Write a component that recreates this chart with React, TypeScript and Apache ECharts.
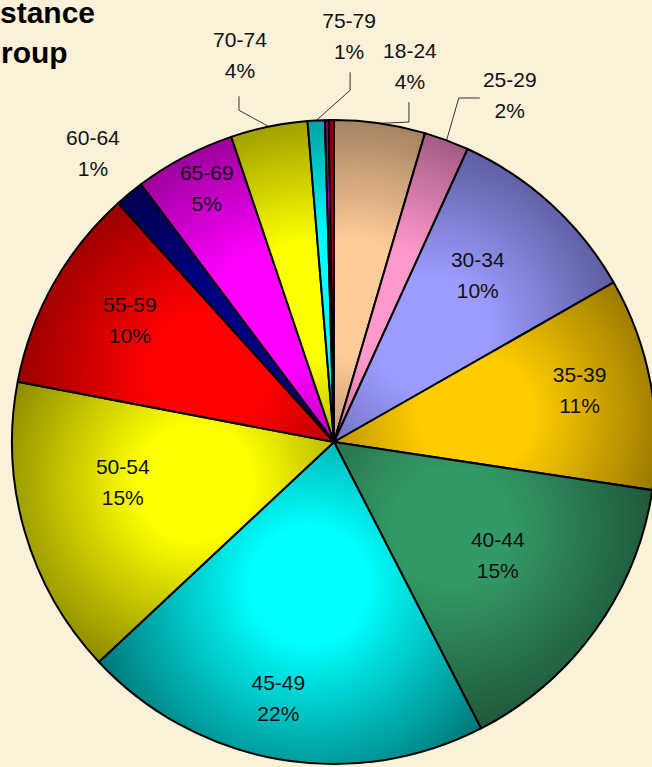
import React, { useEffect, useRef } from 'react';
import * as echarts from 'echarts';

// ---- data ----
const ageGroups = ['18-24', '25-29', '30-34', '35-39', '40-44', '45-49', '50-54', '55-59', '60-64', '65-69', '70-74', '75-79', '80-84', '85+'];
const shares = [4.56, 2.25, 9.94, 10.64, 15.06, 20.58, 14.97, 10.3, 1.47, 5.06, 3.86, 0.86, 0.19, 0.26];
const shareLabels = ['4%', '2%', '10%', '11%', '15%', '22%', '15%', '10%', '1%', '5%', '4%', '1%', '', ''];
const titleLines = ['stance', 'roup'];

// ---- styling / layout ----
const lightColors = ['#FFCC99', '#FF99CC', '#9C9CFF', '#FFCC00', '#339966', '#00FFFF', '#FFFF00', '#FF0000', '#000080', '#FF00FF', '#FFFF00', '#00FFFF', '#CC00CC', '#B00000'];
const darkColors = ['#7E6248', '#7A3F62', '#484880', '#7A5F00', '#1B4A31', '#007070', '#747400', '#780000', '#00003A', '#700070', '#767600', '#007878', '#660066', '#7A0000'];

const CX = 334;
const CY = 442;
const R = 322;
const labelRadius = [384, 389, 220, 251, 199, 262, 215, 238, 376, 284, 398, 406, 0, 0];
const labelShift = [3.2, 6.4, -1.6, -1.4, -1.1, 2.4, 5.4, 1.6, -0.4, 1.1, -2.0, 5.3, 0, 0];
const leaders: Record<number, { bend: [number, number]; end: [number, number] }> = {
  0: { bend: [-1, 56.5], end: [-1, 36.5] },
  1: { bend: [-51, 3], end: [-30, 3] },
  10: { bend: [-1, 55], end: [-1, 41] },
  11: { bend: [1, 54], end: [1, 36] },
};

function midAngles(): number[] {
  const total = shares.reduce((a, b) => a + b, 0);
  let acc = 0;
  return shares.map((v) => {
    const m = acc + v / 2;
    acc += v;
    return (m / total) * 360;
  });
}

const polar = (r: number, deg: number): [number, number] => [
  CX + r * Math.sin((deg * Math.PI) / 180),
  CY - r * Math.cos((deg * Math.PI) / 180),
];

export default function App() {
  const ref = useRef<HTMLDivElement>(null);

  useEffect(() => {
    if (!ref.current) return;
    const chart = echarts.init(ref.current, undefined, { renderer: 'svg' });
    const mids = midAngles();

    const data = ageGroups.map((name, i) => {
      const [gx, gy] = polar(R * 0.45, mids[i]);
      return {
        name,
        value: shares[i],
        itemStyle: {
          color: {
            type: 'radial',
            x: gx,
            y: gy,
            r: R * 0.72,
            global: true,
            colorStops: [
              { offset: 0, color: lightColors[i] },
              { offset: 0.25, color: lightColors[i] },
              { offset: 1, color: darkColors[i] },
            ],
          },
        },
        label: { show: i < 12 },
        labelLine: { show: leaders[i] !== undefined },
      };
    });

    chart.setOption({
      animation: false,
      backgroundColor: '#FBF1D9',
      graphic: [
        {
          type: 'text',
          x: 0,
          y: 12,
          style: {
            text: titleLines[0],
            font: 'bold 30px "Liberation Sans", Arial, sans-serif',
            fill: '#000',
            verticalAlign: 'middle',
          },
        },
        {
          type: 'text',
          x: 1,
          y: 52,
          style: {
            text: titleLines[1],
            font: 'bold 30px "Liberation Sans", Arial, sans-serif',
            fill: '#000',
            verticalAlign: 'middle',
          },
        },
      ],
      series: [
        {
          type: 'pie',
          center: [CX, CY],
          radius: R,
          startAngle: 90,
          clockwise: true,
          avoidLabelOverlap: false,
          silent: true,
          itemStyle: { borderColor: '#000', borderWidth: 2 },
          label: {
            position: 'outside',
            formatter: (p: any) => `${p.name}\n${shareLabels[p.dataIndex]}`,
            fontFamily: '"Liberation Sans", Arial, sans-serif',
            fontSize: 21,
            lineHeight: 31,
            color: '#111',
            align: 'center',
          },
          labelLine: {
            show: false,
            lineStyle: { color: '#333', width: 1 },
          },
          labelLayout: (params: any) => {
            const i = params.dataIndex;
            if (i >= 12) return {};
            const [x, y] = polar(labelRadius[i], mids[i] + labelShift[i]);
            const res: any = { x, y, align: 'center', verticalAlign: 'middle' };
            const ld = leaders[i];
            if (ld) {
              res.labelLinePoints = [
                polar(R, mids[i]),
                [x + ld.bend[0], y + ld.bend[1]],
                [x + ld.end[0], y + ld.end[1]],
              ];
            }
            return res;
          },
          data,
        },
      ],
    });

    return () => chart.dispose();
  }, []);

  return (
    <div
      ref={ref}
      style={{ position: 'absolute', left: 0, top: 0, width: 652, height: 767 }}
    />
  );
}
